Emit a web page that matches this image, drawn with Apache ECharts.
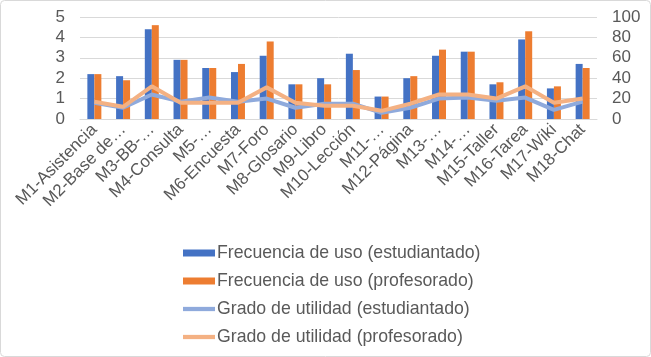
<!DOCTYPE html>
<html><head><meta charset="utf-8">
<script src="https://cdn.jsdelivr.net/npm/echarts@6/dist/echarts.min.js"></script>
<style>html,body{margin:0;padding:0;background:#fff}#c{width:651px;height:357px}</style>
</head><body><div id="c"></div>
<script>
const categories = ['M1-Asistencia','M2-Base de…','M3-BB-…','M4-Consulta','M5-…','M6-Encuesta','M7-Foro','M8-Glosario','M9-Libro','M10-Lección','M11-…','M12-Página','M13-…','M14-…','M15-Taller','M16-Tarea','M17-Wiki','M18-Chat'];
const freqEst = [2.2,2.1,4.4,2.9,2.5,2.3,3.1,1.7,2.0,3.2,1.1,2.0,3.1,3.3,1.7,3.9,1.5,2.7];
const freqProf = [2.2,1.9,4.6,2.9,2.5,2.7,3.8,1.7,1.7,2.4,1.1,2.1,3.4,3.3,1.8,4.3,1.6,2.5];
const utilEst = [16,11,24,17,21,17,20,11,15,15,6,11,20,21,18,21,9,17];
const utilProf = [17,12,32,16,16,16,31,16,13,13,8,15,24,24,20,32,16,20];
const leftTicks = [0,1,2,3,4,5];
const rightTicks = [0,20,40,60,80,100];
const names = ['Frecuencia de uso (estudiantado)','Frecuencia de uso (profesorado)','Grado de utilidad (estudiantado)','Grado de utilidad (profesorado)'];

const font = '"Liberation Sans", Arial, sans-serif';
const txt = '#595959';
const chart = echarts.init(document.getElementById('c'), null, {renderer:'canvas'});
chart.setOption({
  animation:false,
  textStyle:{fontFamily:font},
  graphic:[{type:'rect',shape:{x:0.5,y:0.5,width:650,height:356,r:4},style:{fill:'none',stroke:'#d9d9d9',lineWidth:1},silent:true}],
  grid:{left:80,right:54,top:17,bottom:238},
  legend:{
    orient:'vertical',left:178,top:239,itemWidth:32,itemHeight:7,itemGap:10,
    textStyle:{fontFamily:font,fontSize:17.7,color:txt,padding:[0,0,0,-3]},
    data:[
      {name:names[0],icon:'rect'},
      {name:names[1],icon:'rect'},
      {name:names[2],icon:'path://M0,0H30V4H0Z'},
      {name:names[3],icon:'path://M0,0H30V4H0Z'}
    ]
  },
  xAxis:{
    type:'category',data:categories,
    axisLine:{lineStyle:{color:'#d9d9d9'}},axisTick:{show:false},
    axisLabel:{interval:0,rotate:45,fontSize:17,color:txt,fontFamily:font,margin:8}
  },
  yAxis:[
    {type:'value',min:leftTicks[0],max:leftTicks[leftTicks.length-1],interval:1,
     splitLine:{lineStyle:{color:'#d9d9d9'}},axisLabel:{fontSize:17,color:txt,fontFamily:font,margin:15}},
    {type:'value',min:rightTicks[0],max:rightTicks[rightTicks.length-1],interval:20,
     splitLine:{show:false},axisLabel:{fontSize:17,color:txt,fontFamily:font,margin:15}}
  ],
  series:[
    {name:names[0],type:'bar',data:freqEst,barWidth:7,barGap:'0%',itemStyle:{color:'#4472C4'}},
    {name:names[1],type:'bar',data:freqProf,barWidth:7,barGap:'0%',itemStyle:{color:'#ED7D31'}},
    {name:names[2],type:'line',yAxisIndex:1,data:utilEst,symbol:'none',lineStyle:{width:4,color:'#8FAADC'},itemStyle:{color:'#8FAADC'},z:3},
    {name:names[3],type:'line',yAxisIndex:1,data:utilProf,symbol:'none',lineStyle:{width:4,color:'#F4B183'},itemStyle:{color:'#F4B183'},z:4}
  ]
});
</script></body></html>
